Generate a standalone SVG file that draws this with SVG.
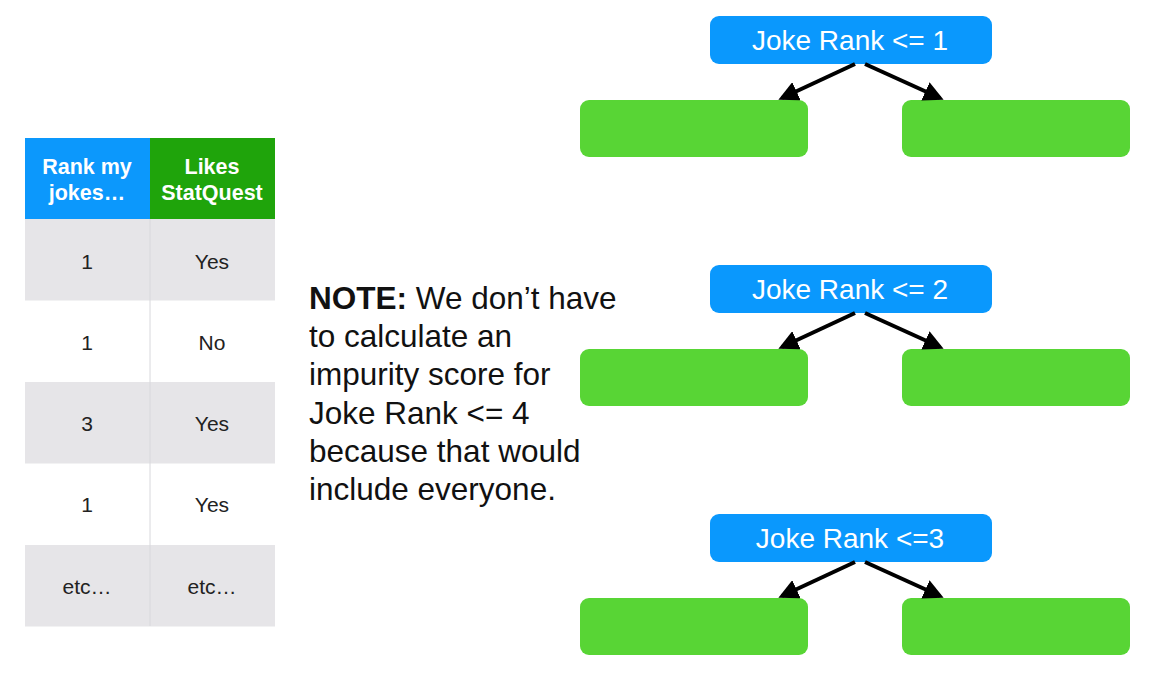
<svg xmlns="http://www.w3.org/2000/svg" width="1152" height="680" viewBox="0 0 1152 680">
  <style>
    text { font-family: "Liberation Sans", Arial, Helvetica, sans-serif; }
    .hdr { fill: #ffffff; font-size: 21.5px; font-weight: bold; text-anchor: middle; }
    .cell { fill: #222222; font-size: 21px; text-anchor: middle; }
    .cond { fill: #0a98fd; }
    .condtxt { fill: #ffffff; font-size: 28px; text-anchor: middle; }
    .leaf { fill: #58d535; }
    .note { fill: #111111; font-size: 31.5px; }
    .edge { stroke: #000000; stroke-width: 4; fill: none; marker-end: url(#arrow); }
  </style>
  <defs>
    <marker id="arrow" viewBox="0 0 10 10" refX="8" refY="5" markerWidth="5" markerHeight="5" orient="auto" markerUnits="strokeWidth">
      <path d="M0,0 L10,5 L0,10 z" fill="#000000"/>
    </marker>
  </defs>
  <rect width="1152" height="680" fill="#ffffff"/>

  <!-- data table -->
  <g id="table">
    <rect x="25" y="138" width="125" height="81" fill="#0c98fc"/>
    <rect x="150" y="138" width="125" height="81" fill="#1fa40b"/>
    <text class="hdr" x="87" y="174">Rank my</text>
    <text class="hdr" x="87" y="200">jokes…</text>
    <text class="hdr" x="212" y="174">Likes</text>
    <text class="hdr" x="212" y="200">StatQuest</text>
    <rect x="25" y="219" width="250" height="81.5" fill="#e6e5e8"/>
    <rect x="25" y="382" width="250" height="81.5" fill="#e6e5e8"/>
    <rect x="25" y="545" width="250" height="81.5" fill="#e6e5e8"/>
    <line x1="150" y1="219" x2="150" y2="626" stroke="#d8d8dc" stroke-width="1"/>
    <text class="cell" x="87" y="269">1</text>
    <text class="cell" x="212" y="269">Yes</text>
    <text class="cell" x="87" y="350">1</text>
    <text class="cell" x="212" y="350">No</text>
    <text class="cell" x="87" y="431">3</text>
    <text class="cell" x="212" y="431">Yes</text>
    <text class="cell" x="87" y="512">1</text>
    <text class="cell" x="212" y="512">Yes</text>
    <text class="cell" x="87" y="594">etc…</text>
    <text class="cell" x="212" y="594">etc…</text>
  </g>

  <!-- note -->
  <g id="note">
    <text class="note" x="309" y="309"><tspan font-weight="bold">NOTE:</tspan> We don’t have</text>
    <text class="note" x="309" y="347">to calculate an</text>
    <text class="note" x="309" y="385">impurity score for</text>
    <text class="note" x="309" y="424">Joke Rank &lt;= 4</text>
    <text class="note" x="309" y="462">because that would</text>
    <text class="note" x="309" y="500">include everyone.</text>
  </g>

  <!-- tree 1 -->
  <g id="split1">
    <rect class="cond" x="710" y="16" width="282" height="48" rx="9"/>
    <text class="condtxt" x="850" y="50">Joke Rank &lt;= 1</text>
  </g>
  <g id="leaf1a"><rect class="leaf" x="580" y="100" width="228" height="57" rx="9"/></g>
  <g id="leaf1b"><rect class="leaf" x="902" y="100" width="228" height="57" rx="9"/></g>

  <!-- tree 2 -->
  <g id="split2">
    <rect class="cond" x="710" y="265" width="282" height="48" rx="9"/>
    <text class="condtxt" x="850" y="299">Joke Rank &lt;= 2</text>
  </g>
  <g id="leaf2a"><rect class="leaf" x="580" y="349" width="228" height="57" rx="9"/></g>
  <g id="leaf2b"><rect class="leaf" x="902" y="349" width="228" height="57" rx="9"/></g>

  <!-- tree 3 -->
  <g id="split3">
    <rect class="cond" x="710" y="514" width="282" height="48" rx="9"/>
    <text class="condtxt" x="850" y="548">Joke Rank &lt;=3</text>
  </g>
  <g id="leaf3a"><rect class="leaf" x="580" y="598" width="228" height="57" rx="9"/></g>
  <g id="leaf3b"><rect class="leaf" x="902" y="598" width="228" height="57" rx="9"/></g>

  <!-- connectors -->
  <g id="connectors">
    <line class="edge" x1="855" y1="64" x2="782" y2="98"/>
    <line class="edge" x1="865" y1="64" x2="940" y2="98"/>
    <line class="edge" x1="855" y1="313" x2="782" y2="347"/>
    <line class="edge" x1="865" y1="313" x2="940" y2="347"/>
    <line class="edge" x1="855" y1="562" x2="782" y2="596"/>
    <line class="edge" x1="865" y1="562" x2="940" y2="596"/>
  </g>
</svg>
